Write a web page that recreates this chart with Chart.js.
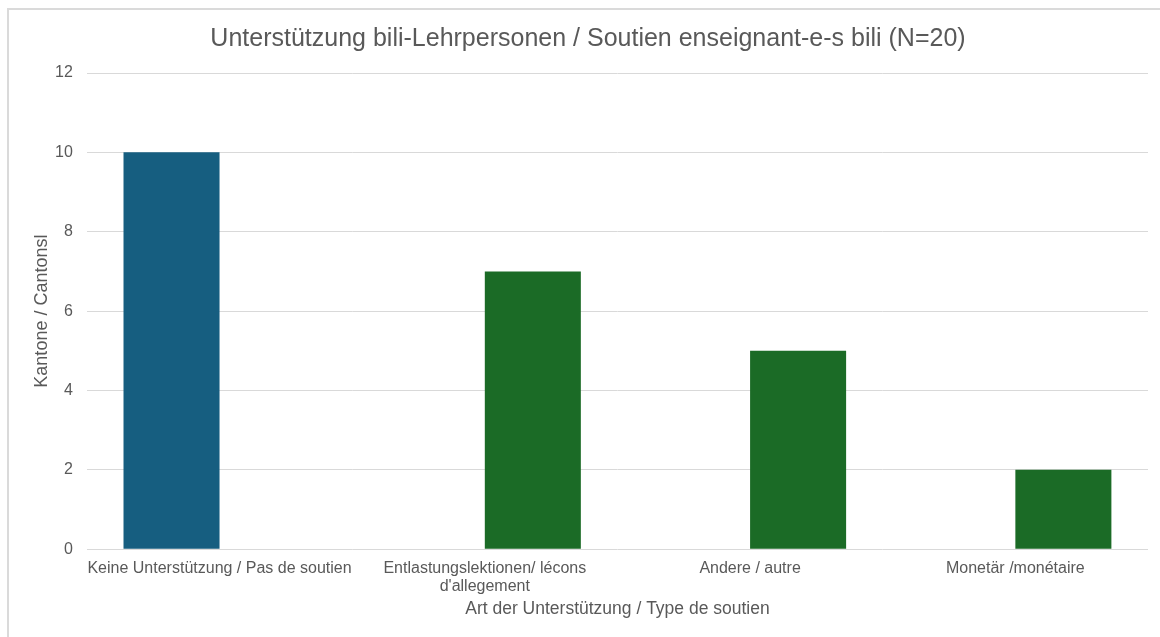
<!DOCTYPE html>
<html>
<head>
<meta charset="utf-8">
<script src="https://cdn.jsdelivr.net/npm/chart.js@4.4.0/dist/chart.umd.min.js"></script>
<style>
  html, body { margin: 0; padding: 0; background: #fff; }
  #wrap { position: relative; width: 1160px; height: 637px; }
  #frame {
    position: absolute; left: 7px; top: 8px; right: 0; bottom: 0;
    border-left: 2px solid #dadada; border-top: 2px solid #dadada;
  }
  #chart { position: absolute; left: 0; top: 0; }
</style>
</head>
<body>
<div id="wrap">
  <div id="frame"></div>
  <canvas id="chart" width="1160" height="637"></canvas>
</div>
<script>
const categories = [
  'Keine Unterstützung / Pas de soutien',
  ['Entlastungslektionen/ lécons', "d'allegement"],
  'Andere / autre',
  'Monetär /monétaire'
]
// blue series only has the "no support" bar, green the support types
const noSupportValues = [10, null, null, null]
const supportValues = [null, 7, 5, 2]
const yTicks = [0, 2, 4, 6, 8, 10, 12]

const textColor = '#595959'
const gridColor = '#d9d9d9'
const fontFamily = '"Liberation Sans", Arial, Helvetica, sans-serif'

new Chart(document.getElementById('chart'), {
  type: 'bar',
  data: {
    labels: categories,
    datasets: [{
      label: 'Keine Unterstützung',
      data: noSupportValues,
      backgroundColor: '#165e80',
      borderWidth: 0,
      categoryPercentage: 0.724,
      barPercentage: 1
    }, {
      label: 'Unterstützung',
      data: supportValues,
      backgroundColor: '#1b6b26',
      borderWidth: 0,
      categoryPercentage: 0.724,
      barPercentage: 1
    }]
  },
  options: {
    responsive: false,
    animation: false,
    layout: { padding: { top: 10, left: 28, right: 12, bottom: 17 } },
    plugins: {
      legend: { display: false },
      tooltip: { enabled: false },
      title: {
        display: true,
        text: 'Unterstützung bili-Lehrpersonen / Soutien enseignant-e-s bili (N=20)',
        color: textColor,
        font: { family: fontFamily, size: 25, weight: 'normal' },
        padding: { top: 14, bottom: 19 }
      }
    },
    scales: {
      x: {
        // invisible tick marks give the gap between axis and labels
        grid: { display: false, drawTicks: true, tickLength: 10 },
        border: { display: false },
        ticks: {
          color: textColor,
          font: { family: fontFamily, size: 16, lineHeight: 1.15 },
          padding: 0,
          maxRotation: 0,
          minRotation: 0,
          autoSkip: false
        },
        title: {
          display: true,
          text: 'Art der Unterstützung / Type de soutien',
          color: textColor,
          font: { family: fontFamily, size: 17.5 },
          padding: { top: 3, bottom: 0 }
        }
      },
      y: {
        min: 0,
        max: 12,
        afterBuildTicks: scale => { scale.ticks = yTicks.map(v => ({ value: v })) },
        grid: { color: gridColor, lineWidth: 1, drawTicks: true, tickLength: 14, tickColor: 'rgba(0,0,0,0)' },
        border: { display: false },
        ticks: {
          color: textColor,
          font: { family: fontFamily, size: 16 },
          padding: 0
        },
        title: {
          display: true,
          text: 'Kantone / Cantonsl',
          color: textColor,
          font: { family: fontFamily, size: 18 },
          padding: { top: 3, bottom: 2.5 }
        }
      }
    }
  }
})
</script>
</body>
</html>
